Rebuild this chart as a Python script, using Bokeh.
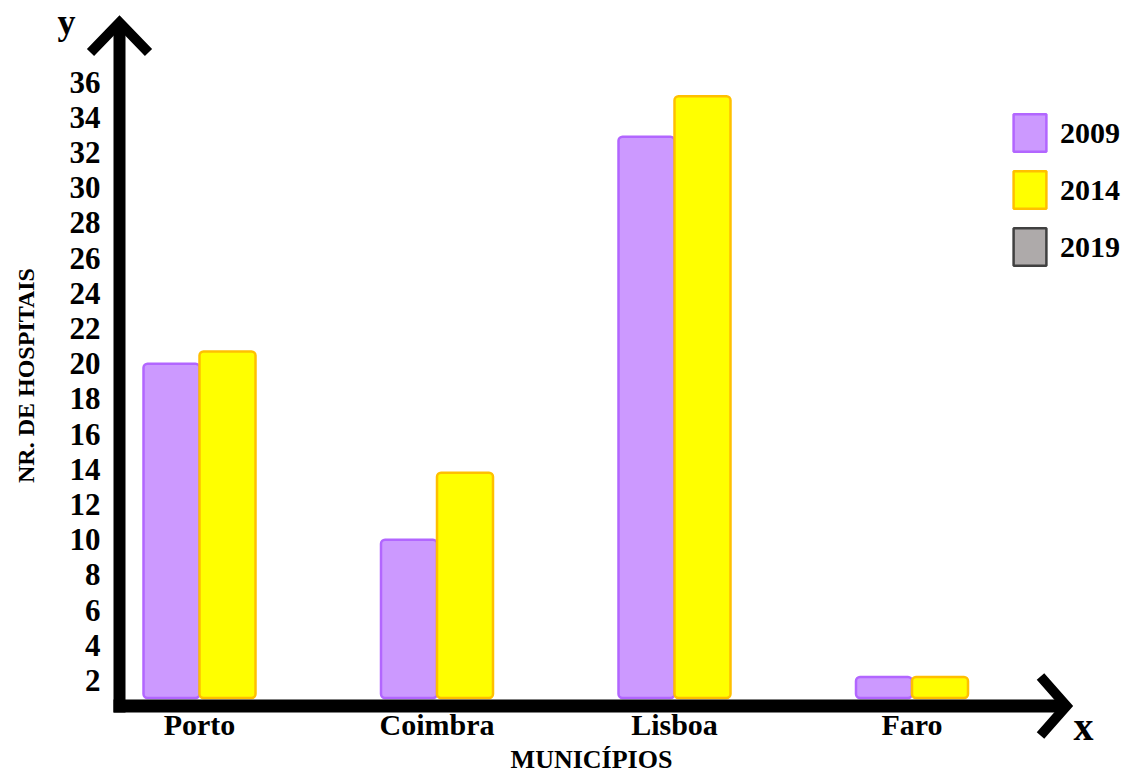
import math
from bokeh.plotting import figure
from bokeh.models import (Range1d, FixedTicker, Legend, LegendItem, Label,
                          ColumnDataSource)
from bokeh.transform import dodge
from bokeh.embed import file_html
from bokeh.resources import INLINE

# ---------------- data ----------------
cities = ["Porto", "Coimbra", "Lisboa", "Faro"]
years = ["2009", "2014", "2019"]
hosp_2009 = [20, 10, 32.9, 2.2]
hosp_2014 = [20.7, 13.8, 35.2, 2.2]
hosp_2019 = [float("nan")] * 4      # no bars shown for 2019 (legend only)
y_ticks = list(range(2, 37, 2))
y_title = "NR. DE HOSPITAIS"
x_title = "MUNICÍPIOS"

# ---------------- layout helpers ----------------
W, H = 1143, 774
PX0, KX = 199.0, 237.5       # px of first category, px per category
PY0, KY = 715.2, 17.6        # px of y=0, px per unit


def dx(px):
    return (px - PX0) / KX


def dy(py):
    return (PY0 - py) / KY


FONT = "Liberation Serif"
BW = 56 / KX                 # bar width in data units

p = figure(width=W, height=H,
           x_range=Range1d(dx(0), dx(W)), y_range=Range1d(dy(H), dy(0)),
           output_backend="svg", toolbar_location=None,
           min_border_left=0, min_border_right=0, min_border_top=0,
           min_border_bottom=0)
p.outline_line_color = None
p.xgrid.grid_line_color = None
p.ygrid.grid_line_color = None
p.background_fill_color = "white"
p.border_fill_color = "white"

idx = list(range(len(cities)))
src = ColumnDataSource(dict(x=idx, city=cities, v2009=hosp_2009,
                            v2014=hosp_2014, v2019=hosp_2019))

r09 = p.vbar(x=dodge("x", -BW / 2), top="v2009", bottom=1, width=BW, source=src,
             fill_color="#CC99FF", line_color="#B266FF", line_width=2.5,
             border_radius=4)
r14 = p.vbar(x=dodge("x", BW / 2), top="v2014", bottom=1, width=BW, source=src,
             fill_color="#FFFF00", line_color="#FFC000", line_width=2.5,
             border_radius=4)
r19 = p.vbar(x=dodge("x", 1.5 * BW), top="v2019", bottom=1, width=BW, source=src,
             fill_color="#AEAAAA", line_color="#404040", line_width=2.5,
             border_radius=4)

# ---------------- axes (ticks / labels), fixed inside the frame ----------------
for ax in (p.xaxis[0], p.yaxis[0]):
    ax.axis_line_color = None
    ax.major_tick_line_color = None
    ax.minor_tick_line_color = None
    ax.major_tick_out = 0
    ax.major_tick_in = 0
    ax.major_label_text_font = FONT
    ax.major_label_text_font_style = "bold"
    ax.major_label_text_color = "black"

p.xaxis.fixed_location = dy(707)
p.xaxis.ticker = FixedTicker(ticks=idx)
p.xaxis.major_label_overrides = {i: c for i, c in enumerate(cities)}
p.xaxis.major_label_text_font_size = "30px"
p.xaxis.major_label_standoff = 0

p.yaxis.fixed_location = dx(113)
p.yaxis.ticker = FixedTicker(ticks=y_ticks)
p.yaxis.major_label_text_font_size = "31px"
p.yaxis.major_label_standoff = 13

# ---------------- axis arrows (decoration) ----------------
ax_kw = dict(line_color="black", line_cap="butt")
p.line(x=[dx(119), dx(119)], y=[dy(712), dy(22)], line_width=12, **ax_kw)
p.line(x=[dx(113), dx(1066)], y=[dy(705.5), dy(705.5)], line_width=13, **ax_kw)
p.line(x=[dx(90), dx(119), dx(148)], y=[dy(52), dy(22), dy(52)],
       line_width=10, line_join="miter", **ax_kw)
p.line(x=[dx(1040), dx(1066), dx(1040)], y=[dy(676), dy(705.5), dy(735)],
       line_width=10, line_join="miter", **ax_kw)

# ---------------- titles ----------------
lab_kw = dict(text_font=FONT, text_font_style="bold", text_color="black",
              text_align="center", text_baseline="middle")
p.add_layout(Label(x=dx(66), y=dy(21), text="y", text_font_size="36px", **lab_kw))
p.add_layout(Label(x=dx(1083), y=dy(726), text="x", text_font_size="40px", **lab_kw))
p.add_layout(Label(x=dx(591), y=dy(759), text=x_title, text_font_size="26px",
                   **lab_kw))
p.add_layout(Label(x=dx(25), y=dy(375), text=y_title, angle=math.pi / 2,
                   text_font_size="24px", **lab_kw))

# ---------------- legend ----------------
legend = Legend(items=[LegendItem(label=years[0], renderers=[r09]),
                       LegendItem(label=years[1], renderers=[r14]),
                       LegendItem(label=years[2], renderers=[r19])],
                location=(1009, 504), orientation="vertical",
                glyph_width=41, glyph_height=47, spacing=10, label_standoff=10,
                padding=0, margin=0, border_line_color=None,
                background_fill_alpha=0,
                label_text_font=FONT, label_text_font_style="bold",
                label_text_font_size="30px", label_text_color="black")
p.add_layout(legend)

open("out.html", "w").write(file_html(p, INLINE))
